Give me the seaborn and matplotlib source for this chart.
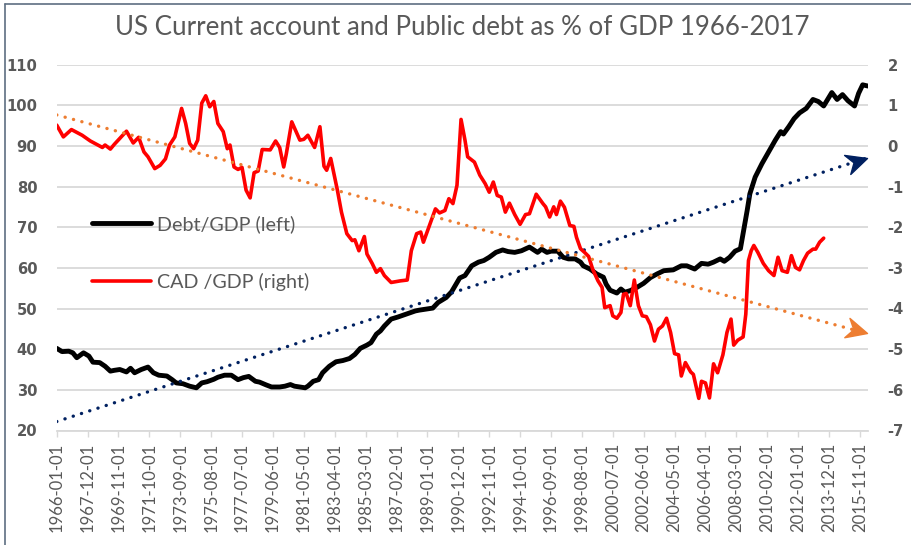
import numpy as np
import pandas as pd
import matplotlib
matplotlib.use("Agg")
import matplotlib.pyplot as plt
import matplotlib.dates as mdates
import seaborn as sns
from matplotlib.markers import MarkerStyle
from matplotlib.path import Path
from matplotlib.transforms import Affine2D
from matplotlib.lines import Line2D

# ---------------- data ----------------
debt_dates = [
    "1966-01", "1966-05", "1966-10", "1967-01", "1967-04", "1967-09", "1968-01", "1968-04",
    "1968-09", "1969-01", "1969-05", "1969-08", "1969-12", "1970-05", "1970-08", "1970-11",
    "1971-04", "1971-09", "1972-01", "1972-05", "1972-11", "1973-03", "1973-06", "1973-11",
    "1974-04", "1974-09", "1975-01", "1975-05", "1975-10", "1976-01", "1976-06", "1976-11",
    "1977-04", "1977-08", "1977-12", "1978-05", "1978-08", "1979-01", "1979-05", "1979-11",
    "1980-03", "1980-07", "1980-10", "1981-02", "1981-06", "1981-08", "1981-12", "1982-04",
    "1982-07", "1982-12", "1983-05", "1983-10", "1984-03", "1984-07", "1984-11", "1985-04",
    "1985-07", "1985-11", "1986-02", "1986-05", "1986-10", "1987-03", "1987-09", "1988-04",
    "1988-07", "1988-11", "1989-05", "1989-09", "1990-03", "1990-07", "1990-10", "1991-01",
    "1991-05", "1991-10", "1992-03", "1992-07", "1992-11", "1993-04", "1993-09", "1994-01",
    "1994-06", "1994-11", "1995-05", "1995-11", "1996-02", "1996-06", "1996-09", "1997-02",
    "1997-06", "1997-10", "1998-03", "1998-07", "1998-09", "1999-02", "1999-07", "1999-12",
    "2000-02", "2000-05", "2000-10", "2001-01", "2001-04", "2001-08", "2002-01", "2002-06",
    "2002-11", "2003-04", "2003-09", "2004-04", "2004-10", "2005-02", "2005-08", "2006-01",
    "2006-06", "2006-10", "2007-03", "2007-06", "2007-10", "2008-02", "2008-06", "2008-08",
    "2008-11", "2009-01", "2009-05", "2009-10", "2010-03", "2010-08", "2010-12", "2011-02",
    "2011-06", "2011-10", "2012-02", "2012-07", "2012-12", "2013-04", "2013-08", "2014-02",
    "2014-06", "2014-10", "2015-02", "2015-07", "2015-10", "2016-01", "2016-05",
]
debt_values = [
    40.2, 39.4, 39.5, 39.1, 37.9, 39.1, 38.3, 36.8,
    36.7, 35.8, 34.6, 34.8, 35.0, 34.4, 35.3, 34.2,
    35.0, 35.6, 34.2, 33.6, 33.4, 32.5, 31.7, 31.5,
    30.9, 30.5, 31.7, 32.0, 32.6, 33.1, 33.6, 33.6,
    32.5, 33.0, 33.3, 32.1, 31.9, 31.2, 30.7, 30.7,
    30.9, 31.3, 30.9, 30.7, 30.5, 30.9, 32.1, 32.5,
    34.2, 35.8, 36.9, 37.2, 37.7, 38.7, 40.2, 41.0,
    41.6, 43.7, 44.5, 45.7, 47.4, 47.9, 48.6, 49.4,
    49.6, 49.8, 50.1, 51.5, 52.7, 54.1, 55.8, 57.5,
    58.1, 60.5, 61.4, 61.8, 62.6, 63.8, 64.4, 64.0,
    63.8, 64.2, 65.1, 63.8, 64.6, 63.8, 64.1, 64.1,
    62.6, 62.2, 62.2, 61.4, 60.5, 59.7, 58.5, 57.7,
    56.0, 54.5, 53.8, 54.8, 54.0, 54.4, 55.2, 56.2,
    57.6, 58.5, 59.3, 59.5, 60.5, 60.5, 59.7, 61.1,
    60.9, 61.4, 62.2, 61.6, 62.6, 64.1, 64.7, 68.4,
    74.1, 78.2, 82.3, 85.6, 88.5, 91.4, 93.5, 92.9,
    94.7, 96.7, 98.1, 99.2, 101.4, 100.9, 99.8, 103.1,
    101.4, 102.6, 101.1, 99.8, 102.9, 105.0, 104.7,
]

cad_dates = [
    "1966-01", "1966-06", "1966-12", "1967-08", "1968-02", "1968-11", "1969-01", "1969-05",
    "1969-08", "1970-05", "1970-10", "1971-02", "1971-06", "1971-09", "1972-02", "1972-06",
    "1972-10", "1973-01", "1973-05", "1973-10", "1974-01", "1974-04", "1974-07", "1974-10",
    "1975-01", "1975-04", "1975-07", "1975-10", "1976-01", "1976-05", "1976-08", "1976-10",
    "1977-01", "1977-04", "1977-07", "1977-10", "1978-01", "1978-04", "1978-07", "1978-10",
    "1979-04", "1979-08", "1979-11", "1980-02", "1980-04", "1980-08", "1981-02", "1981-05",
    "1981-08", "1982-01", "1982-05", "1982-08", "1982-10", "1983-01", "1983-06", "1983-09",
    "1984-01", "1984-05", "1984-07", "1984-10", "1985-02", "1985-04", "1985-08", "1985-11",
    "1986-02", "1986-05", "1986-10", "1987-05", "1987-10", "1988-01", "1988-05", "1988-08",
    "1988-10", "1989-03", "1989-07", "1989-10", "1990-02", "1990-05", "1990-08", "1990-11",
    "1991-02", "1991-05", "1991-07", "1991-12", "1992-04", "1992-08", "1992-11", "1993-02",
    "1993-05", "1993-08", "1993-11", "1994-02", "1994-06", "1994-10", "1995-02", "1995-05",
    "1995-10", "1996-03", "1996-05", "1996-08", "1996-11", "1997-01", "1997-04", "1997-07",
    "1997-11", "1998-02", "1998-04", "1998-07", "1998-10", "1999-01", "1999-04", "1999-08",
    "1999-11", "2000-01", "2000-05", "2000-07", "2000-10", "2001-01", "2001-03", "2001-05",
    "2001-08", "2001-11", "2002-02", "2002-05", "2002-08", "2002-11", "2003-02", "2003-05",
    "2003-08", "2003-11", "2004-02", "2004-05", "2004-08", "2004-10", "2005-01", "2005-05",
    "2005-07", "2005-11", "2006-01", "2006-04", "2006-07", "2006-10", "2007-01", "2007-05",
    "2007-08", "2007-11", "2008-01", "2008-04", "2008-08", "2008-10", "2008-12", "2009-02",
    "2009-04", "2009-07", "2009-11", "2010-03", "2010-07", "2010-10", "2011-01", "2011-05",
    "2011-08", "2011-11", "2012-02", "2012-05", "2012-08", "2012-12", "2013-02", "2013-05",
    "2013-08",
]
cad_values = [
    0.51, 0.22, 0.40, 0.26, 0.12, -0.04, 0.02, -0.08,
    0.04, 0.36, 0.07, 0.21, -0.15, -0.27, -0.56, -0.48,
    -0.32, 0.02, 0.22, 0.92, 0.55, 0.06, -0.07, 0.14,
    1.05, 1.23, 0.96, 1.09, 0.55, 0.35, -0.07, 0.02,
    -0.52, -0.58, -0.53, -1.09, -1.28, -0.66, -0.62, -0.09,
    -0.10, 0.12, -0.04, -0.52, -0.19, 0.59, 0.14, 0.16,
    0.26, -0.04, 0.47, -0.50, -0.60, -0.31, -1.09, -1.63,
    -2.16, -2.33, -2.31, -2.58, -2.23, -2.66, -2.90, -3.11,
    -3.02, -3.19, -3.36, -3.32, -3.30, -2.58, -2.16, -2.12,
    -2.37, -1.92, -1.55, -1.65, -1.59, -1.30, -1.42, -0.97,
    0.65, 0.14, -0.27, -0.40, -0.72, -0.93, -1.14, -0.89,
    -1.22, -1.26, -1.63, -1.41, -1.69, -1.93, -1.69, -1.67,
    -1.19, -1.42, -1.50, -1.75, -1.50, -1.69, -1.36, -1.51,
    -1.96, -1.98, -2.25, -2.53, -2.62, -2.72, -3.03, -3.32,
    -3.48, -3.98, -3.93, -4.18, -4.24, -4.10, -3.65, -3.63,
    -3.93, -3.30, -3.93, -4.18, -4.20, -4.40, -4.80, -4.51,
    -4.43, -4.24, -4.59, -5.11, -5.14, -5.66, -5.33, -5.56,
    -5.62, -6.21, -5.79, -5.83, -6.20, -5.36, -5.58, -5.14,
    -4.59, -4.26, -4.90, -4.78, -4.70, -4.14, -2.82, -2.58,
    -2.45, -2.62, -2.89, -3.07, -3.19, -2.74, -3.07, -3.11,
    -2.70, -2.99, -3.05, -2.82, -2.64, -2.54, -2.54, -2.37,
    -2.27,
]

trend_dates = ["1966-01", "2016-04"]
debt_trend = [22.2, 87.0]
cad_trend = [0.76, -4.61]

tick_labels = [
    "1966-01-01", "1967-12-01", "1969-11-01", "1971-10-01", "1973-09-01", "1975-08-01",
    "1977-07-01", "1979-06-01", "1981-05-01", "1983-04-01", "1985-03-01", "1987-02-01",
    "1989-01-01", "1990-12-01", "1992-11-01", "1994-10-01", "1996-09-01", "1998-08-01",
    "2000-07-01", "2002-06-01", "2004-05-01", "2006-04-01", "2008-03-01", "2010-02-01",
    "2012-01-01", "2013-12-01", "2015-11-01",
]
left_ticks = [20, 30, 40, 50, 60, 70, 80, 90, 100, 110]
right_ticks = [-7, -6, -5, -4, -3, -2, -1, 0, 1, 2]

title = "US Current account and Public debt as % of GDP 1966-2017"
debt_label = "Debt/GDP (left)"
cad_label = "CAD /GDP (right)"

# ---------------- styling ----------------
sns.set_theme(style="white")
plt.rcParams["font.family"] = ["Lato", "DejaVu Sans"]
plt.rcParams["axes.unicode_minus"] = False

GRAY_TXT = "#595959"
GRID = "#D9D9D9"
RED = "#FF0000"
ORANGE = "#ED7D31"
NAVY = "#002060"

fig = plt.figure(figsize=(9.11, 5.45), dpi=100)
ax = fig.add_axes([56.7 / 911, 1 - 430.5 / 545, (868 - 56.7) / 911, (430.5 - 64.5) / 545])
ax2 = ax.twinx()

debt_df = pd.DataFrame({"date": pd.to_datetime(debt_dates), "value": debt_values})
cad_df = pd.DataFrame({"date": pd.to_datetime(cad_dates), "value": cad_values})
tdates = pd.to_datetime(trend_dates)
dtrend_df = pd.DataFrame({"date": tdates, "value": debt_trend})
ctrend_df = pd.DataFrame({"date": tdates, "value": cad_trend})

dot = (0, (0.05, 2.55))
sns.lineplot(data=debt_df, x="date", y="value", ax=ax, color="black", lw=3.5,
             solid_joinstyle="round", legend=False, zorder=3)
sns.lineplot(data=dtrend_df, x="date", y="value", ax=ax, color=NAVY, lw=2.4,
             linestyle=dot, dash_capstyle="round", legend=False, zorder=4)
sns.lineplot(data=cad_df, x="date", y="value", ax=ax2, color=RED, lw=2.6,
             solid_joinstyle="round", legend=False, zorder=3)
sns.lineplot(data=ctrend_df, x="date", y="value", ax=ax2, color=ORANGE, lw=2.4,
             linestyle=dot, dash_capstyle="round", legend=False, zorder=4)

xmin = pd.Timestamp("1966-01-01")
xmax = pd.Timestamp("2016-05-01")
ax.set_xlim(xmin, xmax)
ax.set_ylim(20, 110)
ax2.set_ylim(-7, 2)

ylab_kw = dict(fontfamily="DejaVu Sans", fontweight="bold", fontsize=10.6, color=GRAY_TXT)
ax.set_yticks(left_ticks, labels=[str(v) for v in left_ticks], ha="right", **ylab_kw)
ax2.set_yticks(right_ticks, labels=[str(v) for v in right_ticks], ha="left", **ylab_kw)
ax.set_xticks(pd.to_datetime(tick_labels))
ax.set_xticklabels(tick_labels, rotation=90)

ax.set_xlabel("")
ax.set_ylabel("")
ax2.set_ylabel("")

ax.yaxis.grid(True, color=GRID, lw=1.3)
ax.xaxis.grid(False)
ax2.grid(False)
for a in (ax, ax2):
    for s in a.spines.values():
        s.set_visible(False)
ax.spines["bottom"].set_visible(True)
ax.spines["bottom"].set_color(GRID)
ax.spines["bottom"].set_linewidth(1.3)

ax.tick_params(axis="x", bottom=True, length=4.5, width=1.0, color=GRID, pad=4,
               labelsize=12, labelcolor=GRAY_TXT)
ax.tick_params(axis="y", left=False, right=False, length=0, pad=14)
ax2.tick_params(axis="y", left=False, right=False, length=0, pad=14)

# arrowheads at the ends of the trend lines (stealth shape)
verts = [(0, 0), (-1, 0.48), (-0.68, 0), (-1, -0.48), (0, 0)]
codes = [Path.MOVETO, Path.LINETO, Path.LINETO, Path.LINETO, Path.CLOSEPOLY]
arrow_path = Path(verts, codes)
tnum = mdates.date2num(tdates)
for a, vals, col in ((ax, debt_trend, NAVY), (ax2, cad_trend, ORANGE)):
    p0 = a.transData.transform((tnum[0], vals[0]))
    p1 = a.transData.transform((tnum[1], vals[1]))
    ang = np.degrees(np.arctan2(p1[1] - p0[1], p1[0] - p0[0]))
    m = MarkerStyle(arrow_path, transform=Affine2D().rotate_deg(ang))
    a.plot([tdates[1]], [vals[1]], marker=m, markersize=30, color=col,
           linestyle="none", zorder=5, clip_on=False)

# legend
handles = [Line2D([], [], color="black", lw=3.5), Line2D([], [], color=RED, lw=2.6)]
leg = ax2.legend(handles, [debt_label, cad_label], loc="upper left",
                 bbox_to_anchor=((92 - 56.7) / 811.3, 1 - (215 - 64.5) / 366),
                 frameon=False, fontsize=14.2, handlelength=3.0, handletextpad=0.3,
                 labelspacing=2.05, borderpad=0, borderaxespad=0)
for t in leg.get_texts():
    t.set_color(GRAY_TXT)

# title
ttl = fig.text(462.5 / 911, 1 - 35 / 545, title, ha="center", va="baseline",
               fontsize=20, color=GRAY_TXT)
fig.canvas.draw()
w = ttl.get_window_extent().width
ttl.set_fontsize(20 * 693 / w)

# chart-area border (top and left visible in the reference)
BORDER = "#5E6E82"
fig.add_artist(Line2D([4.7 / 911, 4.7 / 911], [0, 1 - 4 / 545], color=BORDER, lw=1.2))
fig.add_artist(Line2D([4.7 / 911, 1], [1 - 4 / 545, 1 - 4 / 545], color=BORDER, lw=1.2))

fig.savefig("out.png", dpi=100)
